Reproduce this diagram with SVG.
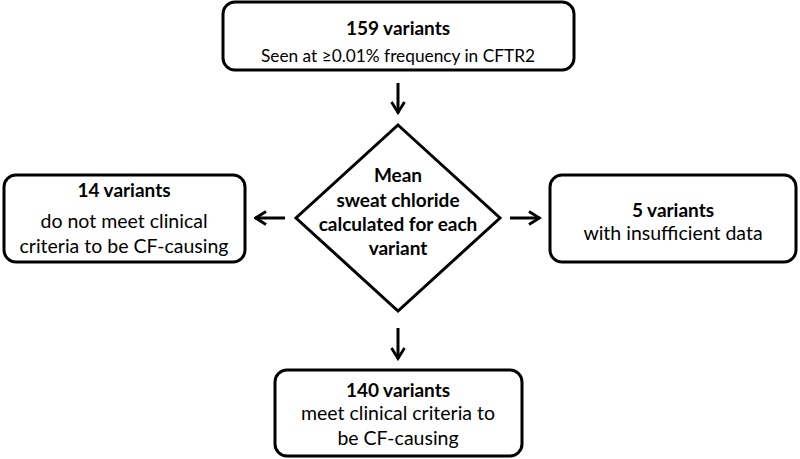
<svg xmlns="http://www.w3.org/2000/svg" width="800" height="459" viewBox="0 0 800 459">
<defs>
<marker id="ah" viewBox="0 0 14 16" refX="12.5" refY="8" markerWidth="14" markerHeight="16" markerUnits="userSpaceOnUse" orient="auto">
<path d="M1.5,1.5 L12,8 L1.5,14.5" fill="none" stroke="#000" stroke-width="2.8" stroke-linejoin="miter"/>
</marker>
</defs>
<style>
.box{fill:#fff;stroke:#000;stroke-width:3}
.t{font-family:Lato,"Open Sans","Liberation Sans",sans-serif;font-size:19.5px;fill:#000;text-anchor:middle}
.b{font-weight:bold;font-size:19px}
.c{stroke:#000;stroke-width:3;fill:none;marker-end:url(#ah)}
</style>
<rect width="800" height="459" fill="#fff"/>
<g id="top">
<rect class="box" x="223" y="2" width="351" height="68" rx="12"/>
<text class="t b" x="398" y="35">159 variants</text>
<text class="t" x="398" y="62" style="font-size:18px" textLength="274" lengthAdjust="spacingAndGlyphs">Seen at ≥0.01% frequency in CFTR2</text>
</g>
<g id="decision">
<polygon class="box" points="398,125 500,218 398,311 296,218"/>
<text class="t b" x="398" y="182">Mean</text>
<text class="t b" x="398" y="207">sweat chloride</text>
<text class="t b" x="398" y="231">calculated for each</text>
<text class="t b" x="398" y="255">variant</text>
</g>
<g id="left">
<rect class="box" x="4" y="175" width="241" height="87" rx="12"/>
<text class="t b" x="124" y="197">14 variants</text>
<text class="t" x="124" y="228">do not meet clinical</text>
<text class="t" x="124" y="253">criteria to be CF-causing</text>
</g>
<g id="right">
<rect class="box" x="550" y="175" width="246" height="87" rx="12"/>
<text class="t b" x="673" y="217">5 variants</text>
<text class="t" x="673" y="240">with insufficient data</text>
</g>
<g id="bottom">
<rect class="box" x="275" y="370" width="247" height="86" rx="12"/>
<text class="t b" x="398" y="397">140 variants</text>
<text class="t" x="398" y="420">meet clinical criteria to</text>
<text class="t" x="398" y="445">be CF-causing</text>
</g>
<g id="connectors">
<line class="c" x1="398" y1="83" x2="398" y2="113"/>
<line class="c" x1="285" y1="218" x2="255" y2="218"/>
<line class="c" x1="510" y1="218" x2="540" y2="218"/>
<line class="c" x1="398" y1="328" x2="398" y2="359"/>
</g>
</svg>
